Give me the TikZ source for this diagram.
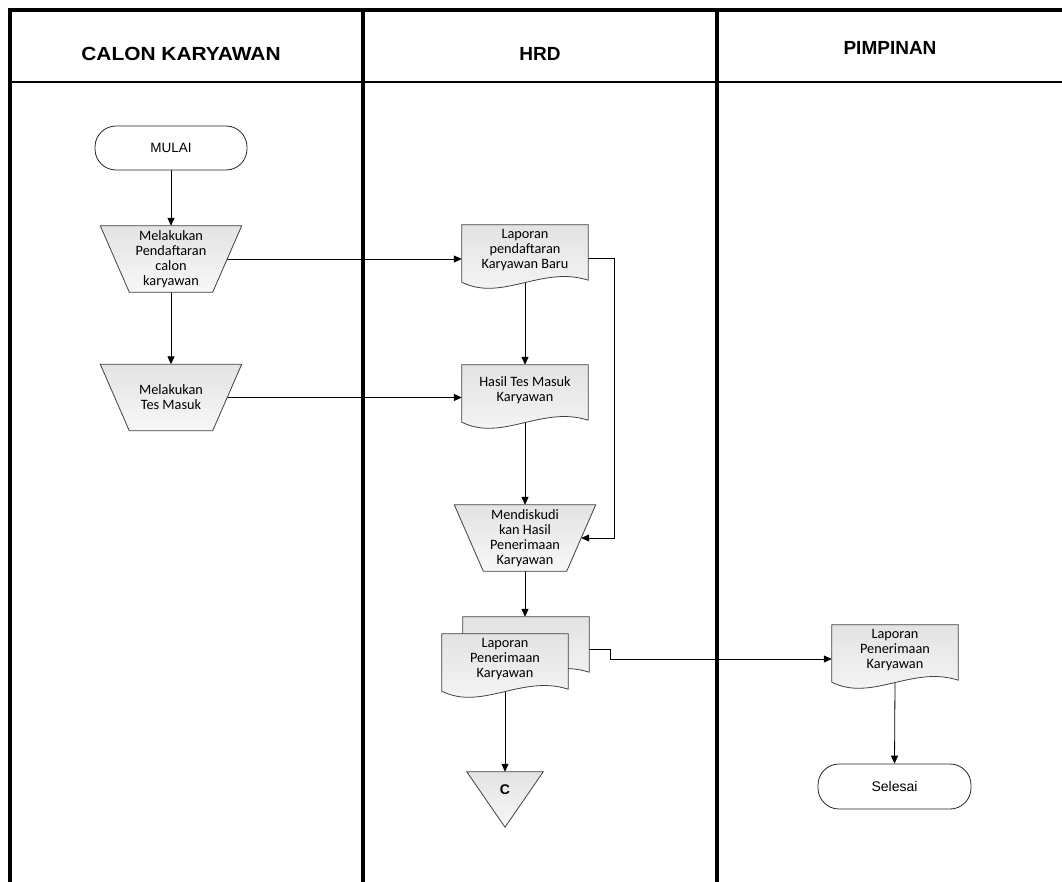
\documentclass[tikz,border=0pt]{standalone}
\usepackage{fontspec}
\setmainfont{Liberation Sans}
\newfontfamily\carlito{Carlito}
\usetikzlibrary{arrows.meta,calc}
\pgfdeclarelayer{conn}
\pgfdeclarelayer{shapes}
\pgfsetlayers{conn,shapes,main}
\tikzset{
  lane/.style={line width=3.5pt, line join=miter},
  conn/.style={-{Triangle[length=8pt,width=7pt]}, line width=0.8pt, black},
  shp/.style={draw=black!75, line width=0.8pt, top color=black!11, bottom color=black!3},
  term/.style={draw=black!85, line width=0.8pt, fill=white, rounded corners=21pt},
  txt/.style={font=\carlito\fontsize{14.3}{15}\selectfont, align=center, inner sep=0pt},
  hdr/.style={font=\bfseries\fontsize{19}{21}\selectfont, inner sep=0pt},
  trapbox/.style={txt, minimum width=112pt, minimum height=66pt},
  docbox/.style={txt, minimum width=126pt, minimum height=50pt},
}
\newcommand\trappath[1]{([xshift=-14.5pt]#1.north west) -- ([xshift=14.5pt]#1.north east) -- ([xshift=-14.5pt]#1.south east) -- ([xshift=14.5pt]#1.south west) -- cycle}
\newcommand\docpath[1]{(#1.north west) -- (#1.north east) -- ([yshift=-5pt]#1.south east) .. controls ([xshift=-46pt,yshift=10pt]#1.south east) and ([xshift=40pt,yshift=-27pt]#1.south west) .. ([yshift=-7pt]#1.south west) -- cycle}
\begin{document}
\begin{tikzpicture}[x=1pt,y=-1pt]
\useasboundingbox (0,0) rectangle (1062,881);
\clip (0,0) rectangle (1062,881);

% header texts
\node[hdr, xscale=1.1] (h1) at (181,54) {CALON KARYAWAN};
\node[hdr] (h2) at (540,54) {HRD};
\node[hdr] (h3) at (890,48) {PIMPINAN};

% nodes
\node[term, minimum width=152pt, minimum height=44pt, font=\fontsize{13.5}{15}\selectfont] (mulai) at (171,148) {MULAI};
\node[trapbox] (t1) at (171,259) {Melakukan\\Pendaftaran\\calon\\karyawan};
\node[trapbox] (t2) at (171,397.5) {Melakukan\\Tes Masuk};
\node[docbox] (d1) at (525,250) {Laporan\\pendaftaran\\Karyawan Baru};
\node[docbox] (d2) at (525,390) {Hasil Tes Masuk\\Karyawan};
\node[trapbox] (t3) at (525,538) {Mendiskudi\\kan Hasil\\Penerimaan\\Karyawan};
\node[docbox] (mdb) at (526,642) {};
\node[docbox] (md) at (505,659) {Laporan\\Penerimaan\\Karyawan};
\node[font=\bfseries\fontsize{14}{15}\selectfont, inner sep=0pt, minimum width=76pt, minimum height=36pt] (c) at (505,790) {C};
\node[docbox] (d3) at (895,650) {Laporan\\Penerimaan\\Karyawan};
\node[term, minimum width=153pt, minimum height=45pt, font=\fontsize{14}{15}\selectfont] (selesai) at (894.5,786.5) {Selesai};

% shapes
\begin{pgfonlayer}{shapes}
\draw[shp] \trappath{t1};
\draw[shp] \trappath{t2};
\draw[shp] \trappath{t3};
\draw[shp] \docpath{d1};
\draw[shp] \docpath{d2};
\draw[shp] \docpath{mdb};
\draw[shp] \docpath{md};
\draw[shp] \docpath{d3};
\draw[shp] (c.north west) -- (c.north east) -- ([yshift=-19pt]c.south) -- cycle;
\end{pgfonlayer}

% lanes and connectors
\begin{pgfonlayer}{conn}
\draw[lane] (10,900) -- (10,10) -- (1080,10);
\draw[lane] (363,10) -- (363,900);
\draw[lane] (717,10) -- (717,900);
\draw[line width=2.6pt] (10,82) -- (1080,82);

\draw[conn] (mulai.south) -- (t1.north);
\draw[conn] (t1.south) -- (t2.north);
\draw[conn] (t1.east) -- (t1.east -| d1.west);
\draw[conn] (t2.east) -- (t2.east -| d2.west);
\draw[conn] ([yshift=-7pt]d1.south) -- (d2.north);
\draw[conn] ([yshift=-8pt]d1.east) -- ++(26,0) |- (t3.east);
\draw[conn] ([yshift=-7pt]d2.south) -- (t3.north);
\draw[conn] (t3.south) -- (t3.south |- mdb.north);
\draw[conn] ([yshift=-7pt]mdb.east) -- ++(21,0) |- ([yshift=-9pt]d3.west);
\draw[conn] ([yshift=-7pt]md.south) -- (c.north);
\draw[conn] ([yshift=-7pt]d3.south) -- (selesai.north);
\end{pgfonlayer}
\end{tikzpicture}
\end{document}
